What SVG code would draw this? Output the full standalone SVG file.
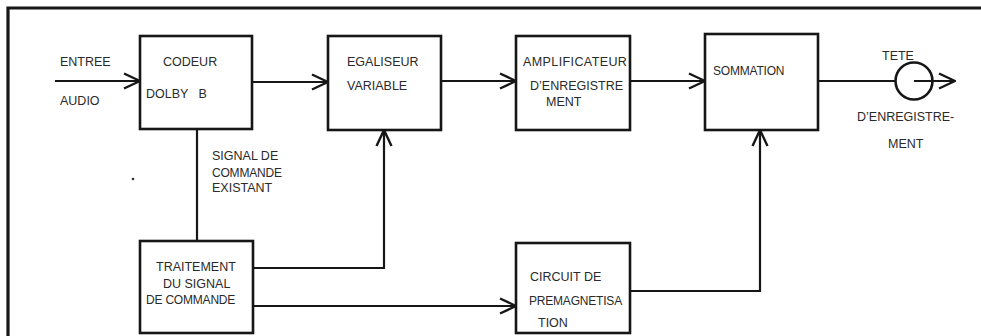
<svg xmlns="http://www.w3.org/2000/svg" width="981" height="336" viewBox="0 0 981 336">
<style>
.box{fill:none;stroke:#161616;stroke-width:2.6}
.ln{fill:none;stroke:#161616;stroke-width:2.2}
.frame{fill:none;stroke:#161616;stroke-width:3.2}
text{font-family:"Liberation Sans",Arial,sans-serif;font-size:12.5px;fill:#2a2a2a}
.n{font-size:12px;letter-spacing:-0.2px}
</style>
<defs>
<marker id="arr" viewBox="0 0 18 18" refX="17" refY="9" markerWidth="18" markerHeight="18" markerUnits="userSpaceOnUse" orient="auto">
<path d="M1,1.5 L17,9 L1,16.5" fill="none" stroke="#161616" stroke-width="2.4"/>
</marker>
</defs>
<rect width="981" height="336" fill="#fff"/>
<path class="frame" d="M8,336 L8,8 L981,8"/>
<circle cx="133" cy="179" r="1.3" fill="#333"/>
<g id="labels-input">
<text x="60" y="66">ENTREE</text>
<text x="60" y="105">AUDIO</text>
</g>
<g id="codeur">
<rect class="box" x="140" y="36" width="112" height="93"/>
<text x="163" y="66">CODEUR</text>
<text x="146" y="98" xml:space="preserve">DOLBY   B</text>
</g>
<g id="egaliseur">
<rect class="box" x="328" y="36" width="113" height="94"/>
<text x="347" y="66">EGALISEUR</text>
<text x="347" y="90">VARIABLE</text>
</g>
<g id="amplificateur">
<rect class="box" x="516" y="36" width="114" height="94"/>
<text x="523" y="66" letter-spacing="0.4">AMPLIFICATEUR</text>
<text x="530" y="90">D’ENREGISTRE</text>
<text x="546" y="106">MENT</text>
</g>
<g id="sommation">
<rect class="box" x="705" y="34" width="113" height="96"/>
<text x="713" y="75" class="n">SOMMATION</text>
</g>
<g id="tete">
<circle class="box" cx="914" cy="81" r="18.5"/>
<text x="882" y="60">TETE</text>
<text x="857" y="121">D’ENREGISTRE-</text>
<text x="888" y="148">MENT</text>
</g>
<g id="signal-label">
<text x="212" y="160">SIGNAL DE</text>
<text x="212" y="177" class="n">COMMANDE</text>
<text x="212" y="192">EXISTANT</text>
</g>
<g id="traitement">
<rect class="box" x="140" y="241" width="113" height="92"/>
<text x="156" y="271">TRAITEMENT</text>
<text x="163" y="288">DU SIGNAL</text>
<text x="146" y="304" class="n">DE COMMANDE</text>
</g>
<g id="circuit">
<rect class="box" x="516" y="243" width="114" height="90"/>
<text x="530" y="281">CIRCUIT DE</text>
<text x="529" y="305" class="n">PREMAGNETISA</text>
<text x="538" y="327">TION</text>
</g>
<g id="connectors">
<path class="ln" d="M55,81 L140,81" marker-end="url(#arr)"/>
<path class="ln" d="M252,82 L328,82" marker-end="url(#arr)"/>
<path class="ln" d="M441,81 L516,81" marker-end="url(#arr)"/>
<path class="ln" d="M630,81 L705,81" marker-end="url(#arr)"/>
<path class="ln" d="M818,81 L895,81"/>
<path class="ln" d="M914,81 L955,81" marker-end="url(#arr)"/>
<path class="ln" d="M197,129 L197,241"/>
<path class="ln" d="M253,268 L384,268 L384,130" marker-end="url(#arr)"/>
<path class="ln" d="M253,306 L516,306" marker-end="url(#arr)"/>
<path class="ln" d="M630,291 L760,291 L760,130" marker-end="url(#arr)"/>
</g>
</svg>
